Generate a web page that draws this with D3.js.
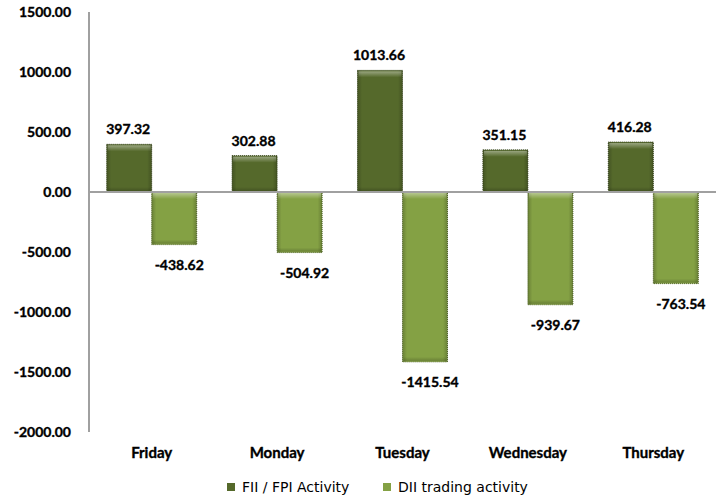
<!DOCTYPE html>
<html>
<head>
<meta charset="utf-8">
<script src="https://cdn.jsdelivr.net/npm/d3@7"></script>
<style>
  body { margin: 0; background: #fff; }
  svg { display: block; }
</style>
</head>
<body>
<div id="chart"></div>
<script>
// chart data
var days = ["Friday", "Monday", "Tuesday", "Wednesday", "Thursday"];
var seriesNames = ["FII / FPI Activity", "DII trading activity"];
var fiiValues = [397.32, 302.88, 1013.66, 351.15, 416.28];
var diiValues = [-438.62, -504.92, -1415.54, -939.67, -763.54];
var yTicks = [1500, 1000, 500, 0, -500, -1000, -1500, -2000];

var colors = ["#55692b", "#84a144"];
var width = 721, height = 500;
var fmt = function(v) { return d3.format(".2f")(v).replace("\u2212", "-"); };

var rows = days.map(function(d, i) {
  return { day: d, values: [fiiValues[i], diiValues[i]] };
});

var svg = d3.select("#chart").append("svg")
  .attr("width", width)
  .attr("height", height);

var defs = svg.append("defs");
// top highlight of the bevel
var hi = defs.append("linearGradient").attr("id", "hi")
  .attr("x1", 0).attr("y1", 0).attr("x2", 0).attr("y2", 1);
hi.append("stop").attr("offset", "0%").attr("stop-color", "#fff").attr("stop-opacity", 0.4);
hi.append("stop").attr("offset", "100%").attr("stop-color", "#fff").attr("stop-opacity", 0);
// side shading
var side = defs.append("linearGradient").attr("id", "side")
  .attr("x1", 0).attr("y1", 0).attr("x2", 1).attr("y2", 0);
side.append("stop").attr("offset", "0%").attr("stop-color", "#000").attr("stop-opacity", 0.2);
side.append("stop").attr("offset", "10%").attr("stop-color", "#000").attr("stop-opacity", 0);
side.append("stop").attr("offset", "90%").attr("stop-color", "#000").attr("stop-opacity", 0);
side.append("stop").attr("offset", "100%").attr("stop-color", "#000").attr("stop-opacity", 0.2);
var lo = defs.append("linearGradient").attr("id", "lo")
  .attr("x1", 0).attr("y1", 0).attr("x2", 0).attr("y2", 1);
lo.append("stop").attr("offset", "0%").attr("stop-color", "#000").attr("stop-opacity", 0);
lo.append("stop").attr("offset", "100%").attr("stop-color", "#000").attr("stop-opacity", 0.2);

var y = d3.scaleLinear().domain([-2000, 1500]).range([432, 12]);
var x = d3.scaleBand().domain(days).range([89, 716]).padding(0);
var xs = d3.scaleBand().domain([0, 1]).range([0, x.bandwidth()])
  .paddingInner(0).paddingOuter(0.393);

function boldText(sel, size) {
  sel.style("font-family", "Lato, sans-serif")
    .style("font-weight", "bold")
    .style("font-size", size + "px")
    .style("fill", "#000")
    .style("stroke", "#000")
    .style("stroke-width", 0.35);
}

// y tick labels
svg.append("g").selectAll("text")
  .data(yTicks)
  .enter().append("text")
  .attr("x", 71)
  .attr("y", function(d) { return y(d); })
  .attr("dy", "0.35em")
  .attr("text-anchor", "end")
  .call(boldText, 14)
  .text(fmt);

// bars
var groups = svg.append("g").selectAll("g")
  .data(rows)
  .enter().append("g")
  .attr("transform", function(d) { return "translate(" + x(d.day) + ",0)"; });

var bars = groups.selectAll("g.bar")
  .data(function(d) { return d.values.map(function(v, k) { return { k: k, v: v }; }); })
  .enter().append("g")
  .attr("class", "bar");

function bx(d) { return xs(d.k); }
function by(d) { return y(Math.max(0, d.v)); }
function bh(d) { return Math.abs(y(d.v) - y(0)); }

bars.append("rect")
  .attr("x", bx).attr("y", by)
  .attr("width", xs.bandwidth()).attr("height", bh)
  .attr("fill", function(d) { return colors[d.k]; })
  .attr("stroke", function(d) { return d3.rgb(colors[d.k]).darker(1.2); })
  .attr("stroke-width", 1)
  .attr("stroke-dasharray", "1,1");
bars.append("rect")
  .attr("x", bx).attr("y", by)
  .attr("width", xs.bandwidth()).attr("height", bh)
  .attr("fill", "url(#side)");
bars.append("rect")
  .attr("x", function(d) { return bx(d) + 1; })
  .attr("y", function(d) { return by(d) + 1; })
  .attr("width", xs.bandwidth() - 2).attr("height", 6)
  .attr("fill", "url(#hi)");
bars.append("rect")
  .attr("x", function(d) { return bx(d) + 1; })
  .attr("y", function(d) { return by(d) + bh(d) - 5; })
  .attr("width", xs.bandwidth() - 2).attr("height", 4)
  .attr("fill", "url(#lo)");

// value labels
bars.append("text")
  .attr("x", function(d) { return bx(d) + xs.bandwidth() / 2 + (d.v < 0 ? 5 : -1); })
  .attr("y", function(d) { return d.v >= 0 ? y(d.v) - 10 : y(d.v) + 25; })
  .attr("text-anchor", "middle")
  .call(boldText, 14)
  .text(function(d) { return fmt(d.v); });

// axis lines
svg.append("line")
  .attr("x1", 89).attr("x2", 89)
  .attr("y1", y(1500)).attr("y2", y(-2000))
  .attr("stroke", "#a0a0a0").attr("stroke-width", 2);
svg.append("line")
  .attr("x1", 89).attr("x2", 716)
  .attr("y1", y(0)).attr("y2", y(0))
  .attr("stroke", "#a0a0a0").attr("stroke-width", 2);

// category labels
svg.append("g").selectAll("text")
  .data(days)
  .enter().append("text")
  .attr("x", function(d) { return x(d) + x.bandwidth() / 2; })
  .attr("y", 458)
  .attr("text-anchor", "middle")
  .call(boldText, 15)
  .text(function(d) { return d; });

// legend
var legendX = [227, 383];
var legend = svg.append("g").selectAll("g")
  .data(seriesNames)
  .enter().append("g")
  .attr("transform", function(d, i) { return "translate(" + legendX[i] + ",483)"; });
legend.append("rect")
  .attr("width", 8).attr("height", 8)
  .attr("fill", function(d, i) { return colors[i]; });
legend.append("text")
  .attr("x", 15).attr("y", 9)
  .style("font-family", "DejaVu Sans, sans-serif")
  .style("font-size", "14px")
  .style("fill", "#000")
  .text(function(d) { return d; });
</script>
</body>
</html>
